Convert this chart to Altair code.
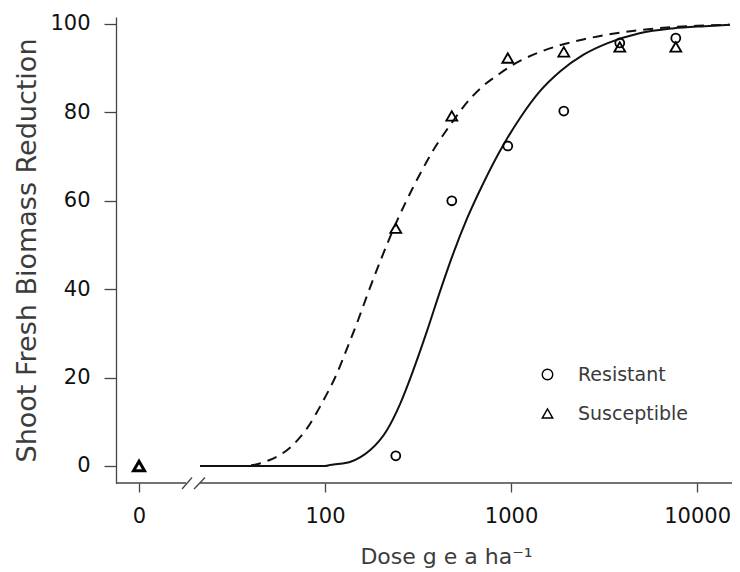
import altair as alt
import pandas as pd

# ---- data ----
resistant_doses = [240, 480, 960, 1920, 3840, 7680]
resistant_obs = [2.3, 60, 72.4, 80.3, 95.7, 96.8]
susceptible_doses = [0, 240, 480, 960, 1920, 3840, 7680]
susceptible_obs = [0, 53.8, 79.2, 92.3, 93.7, 94.8, 94.8]

res_curve_dose = [21.3, 50, 100, 106, 120, 136, 155, 175, 195, 215, 253, 297, 353, 415,
                  488, 580, 706, 905, 1120, 1430, 1840, 2440, 3280, 4900, 7400, 11000, 15000]
res_curve_val = [0, 0, 0, 0.2, 0.5, 0.9, 2, 3.6, 5.6, 8.1, 14, 21.5, 30.5, 39.5,
                 48, 56, 63.8, 72.5, 78.8, 84.8, 89.3, 93, 95.6, 97.9, 99, 99.5, 99.8]

sus_curve_dose = [21.3, 35, 42, 50, 65, 80, 97, 116, 131, 149, 168, 200, 244, 297, 336, 380,
                  450, 512, 553, 700, 870, 1110, 1380, 1800, 2440, 3300, 4900, 7400, 10000, 15000]
sus_curve_val = [0, 0, 0.3, 1.3, 4.2, 8.5, 14.5, 21, 26.5, 32.5, 38.5, 46.8, 55.5, 63, 67.3, 71.3,
                 76, 79.3, 81.2, 85.8, 88.8, 91.6, 93.4, 95.1, 96.5, 97.6, 98.6, 99.3, 99.6, 99.85]

x_tick_values = [10, 100, 1000, 10000]   # 10 stands for the zero-dose position
y_tick_values = [0, 20, 40, 60, 80, 100]

ZERO_POS = 10  # plotting position of dose 0 on the log axis
X_DOMAIN = [7.52, 15400]
Y_DOMAIN = [-3.85, 101.58]

FONT = "DejaVu Sans"
AXIS_COLOR = "#444444"

# ---- tables ----
pts = pd.DataFrame(
    [{"dose": (d if d > 0 else ZERO_POS), "value": v, "group": "Resistant"}
     for d, v in zip(resistant_doses, resistant_obs)]
    + [{"dose": (d if d > 0 else ZERO_POS), "value": v, "group": "Susceptible"}
       for d, v in zip(susceptible_doses, susceptible_obs)]
)
res_curve = pd.DataFrame({"dose": res_curve_dose, "value": res_curve_val})
sus_curve = pd.DataFrame({"dose": sus_curve_dose, "value": sus_curve_val})

# axis line with a break (decoration)
axis_segments = pd.DataFrame({
    "x": [X_DOMAIN[0], 21.3, 17.03, 19.76],
    "x2": [17.89, X_DOMAIN[1], 19.27, 22.63],
    "y": [Y_DOMAIN[0], Y_DOMAIN[0], -5.2, -5.2],
    "y2": [Y_DOMAIN[0], Y_DOMAIN[0], -2.6, -2.6],
})

label_expr = "datum.value == 10 ? '0' : format(datum.value, 'd')"

xscale = alt.Scale(type="log", domain=X_DOMAIN, nice=False)
yscale = alt.Scale(domain=Y_DOMAIN, nice=False, zero=False)

x_enc = alt.X(
    "dose:Q", scale=xscale,
    axis=alt.Axis(
        values=x_tick_values, labelExpr=label_expr, domain=False, grid=False,
        tickSize=9, tickColor=AXIS_COLOR, tickWidth=1.3,
        labelFont=FONT, labelFontSize=21, labelColor="#111111", labelPadding=13,
        title="Dose g e a ha⁻¹", titleFont=FONT, titleFontSize=22,
        titleFontWeight="normal", titleColor="#3c3c3c",
        titleX=330, titleY=80, titleBaseline="alphabetic", titleAlign="center",
    ),
)
y_enc = alt.Y(
    "value:Q", scale=yscale,
    axis=alt.Axis(
        values=y_tick_values, grid=False, domainColor=AXIS_COLOR, domainWidth=1.3,
        tickSize=12, tickColor=AXIS_COLOR, tickWidth=1.3,
        labelFont=FONT, labelFontSize=21, labelColor="#111111", labelPadding=14,
        title="Shoot Fresh Biomass Reduction", titleFont=FONT, titleFontSize=27,
        titleFontWeight="normal", titleColor="#3c3c3c",
        titleX=-81, titleY=233, titleAngle=270, titleBaseline="alphabetic",
        titleAlign="center",
    ),
)

res_line = alt.Chart(res_curve).mark_line(
    color="#111111", strokeWidth=2, interpolate="monotone"
).encode(x=x_enc, y=y_enc)

sus_line = alt.Chart(sus_curve).mark_line(
    color="#111111", strokeWidth=2, strokeDash=[10, 7], interpolate="monotone"
).encode(x="dose:Q", y="value:Q")

points = alt.Chart(pts).mark_point(
    filled=False, color="black", opacity=1
).encode(
    x="dose:Q", y="value:Q",
    shape=alt.Shape(
        "group:N",
        scale=alt.Scale(domain=["Resistant", "Susceptible"],
                        range=["circle", "triangle-up"]),
        legend=alt.Legend(
            title=None, orient="none", legendX=422, legendY=348,
            labelFont=FONT, labelFontSize=19, labelColor="#3a3a3a",
            symbolSize=110, symbolStrokeWidth=1.4, symbolStrokeColor="black",
            symbolFillColor="transparent", labelOffset=21, rowPadding=19,
            padding=0,
        ),
    ),
    size=alt.condition("datum.group == 'Susceptible'", alt.value(120), alt.value(80)),
    strokeWidth=alt.condition("datum.dose == 10", alt.value(3), alt.value(1.8)),
)

axis_rule = alt.Chart(axis_segments).mark_rule(
    color=AXIS_COLOR, strokeWidth=1.3
).encode(x="x:Q", x2="x2:Q", y="y:Q", y2="y2:Q")

chart = alt.layer(axis_rule, res_line, sus_line, points).properties(
    width=616, height=466,
    autosize=alt.AutoSizeParams(type="none"),
    padding={"left": 108, "top": 9, "right": 0, "bottom": 87},
).configure_view(stroke=None)

chart.save("out.html", embed_options={"renderer": "svg", "actions": False})
